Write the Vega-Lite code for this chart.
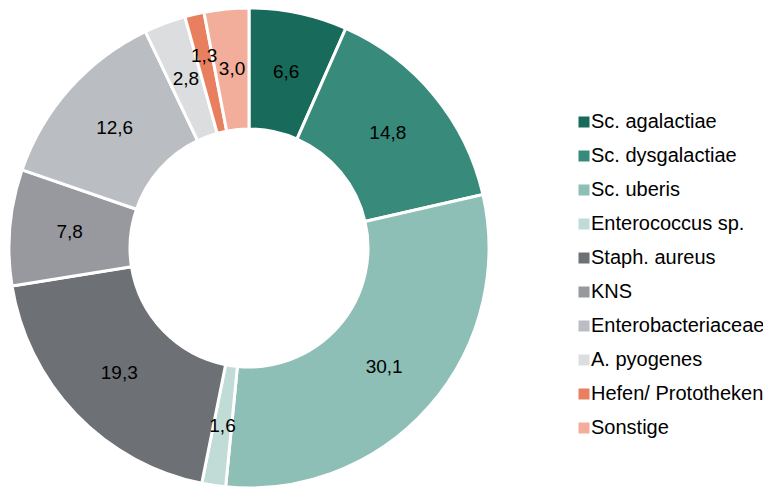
{
  "$schema": "https://vega.github.io/schema/vega-lite/v6.json",
  "width": 498,
  "height": 496,
  "autosize": "none",
  "padding": {"left": 0, "top": 0, "right": 265, "bottom": 0},
  "background": "white",
  "config": {"view": {"stroke": null}, "font": "Liberation Sans"},
  "data": {"values": [
    {"Keim": "Sc. agalactiae", "Anteil": 6.6, "Label": "6,6", "Ordnung": 1},
    {"Keim": "Sc. dysgalactiae", "Anteil": 14.8, "Label": "14,8", "Ordnung": 2},
    {"Keim": "Sc. uberis", "Anteil": 30.1, "Label": "30,1", "Ordnung": 3},
    {"Keim": "Enterococcus sp.", "Anteil": 1.6, "Label": "1,6", "Ordnung": 4},
    {"Keim": "Staph. aureus", "Anteil": 19.3, "Label": "19,3", "Ordnung": 5},
    {"Keim": "KNS", "Anteil": 7.8, "Label": "7,8", "Ordnung": 6},
    {"Keim": "Enterobacteriaceae", "Anteil": 12.6, "Label": "12,6", "Ordnung": 7},
    {"Keim": "A. pyogenes", "Anteil": 2.8, "Label": "2,8", "Ordnung": 8},
    {"Keim": "Hefen/ Prototheken", "Anteil": 1.3, "Label": "1,3", "Ordnung": 9},
    {"Keim": "Sonstige", "Anteil": 3.0, "Label": "3,0", "Ordnung": 10}
  ]},
  "encoding": {
    "theta": {"field": "Anteil", "type": "quantitative", "stack": true},
    "order": {"field": "Ordnung", "type": "quantitative"}
  },
  "layer": [
    {
      "mark": {"type": "arc", "outerRadius": 240, "innerRadius": 119, "stroke": "white", "strokeWidth": 3},
      "encoding": {
        "color": {
          "field": "Keim", "type": "nominal",
          "sort": ["Sc. agalactiae", "Sc. dysgalactiae", "Sc. uberis", "Enterococcus sp.", "Staph. aureus", "KNS", "Enterobacteriaceae", "A. pyogenes", "Hefen/ Prototheken", "Sonstige"],
          "scale": {
            "domain": ["Sc. agalactiae", "Sc. dysgalactiae", "Sc. uberis", "Enterococcus sp.", "Staph. aureus", "KNS", "Enterobacteriaceae", "A. pyogenes", "Hefen/ Prototheken", "Sonstige"],
            "range": ["#186b5a", "#388a7b", "#8ebfb6", "#c1dcd7", "#6d7075", "#97999f", "#babdc1", "#dcdddf", "#e8805f", "#f2ae9b"]
          },
          "legend": {
            "title": null,
            "orient": "none",
            "legendX": 574,
            "legendY": 112,
            "symbolType": "square",
            "symbolSize": 121,
            "symbolStrokeWidth": 0,
            "labelFontSize": 20,
            "labelFont": "Liberation Sans",
            "labelColor": "#000000",
            "labelOffset": -3,
            "rowPadding": 14,
            "labelLimit": 300
          }
        }
      }
    },
    {
      "mark": {"type": "text", "radius": 180, "fontSize": 19, "font": "Liberation Sans"},
      "encoding": {
        "text": {"field": "Label"},
        "color": {"condition": {"test": "datum.Keim === 'Hefen/ Prototheken'", "value": "transparent"}, "value": "#000000"}
      }
    },
    {
      "mark": {"type": "text", "radius": 197, "fontSize": 19, "font": "Liberation Sans"},
      "encoding": {
        "text": {"field": "Label"},
        "color": {"condition": {"test": "datum.Keim === 'Hefen/ Prototheken'", "value": "#000000"}, "value": "transparent"}
      }
    }
  ]
}
